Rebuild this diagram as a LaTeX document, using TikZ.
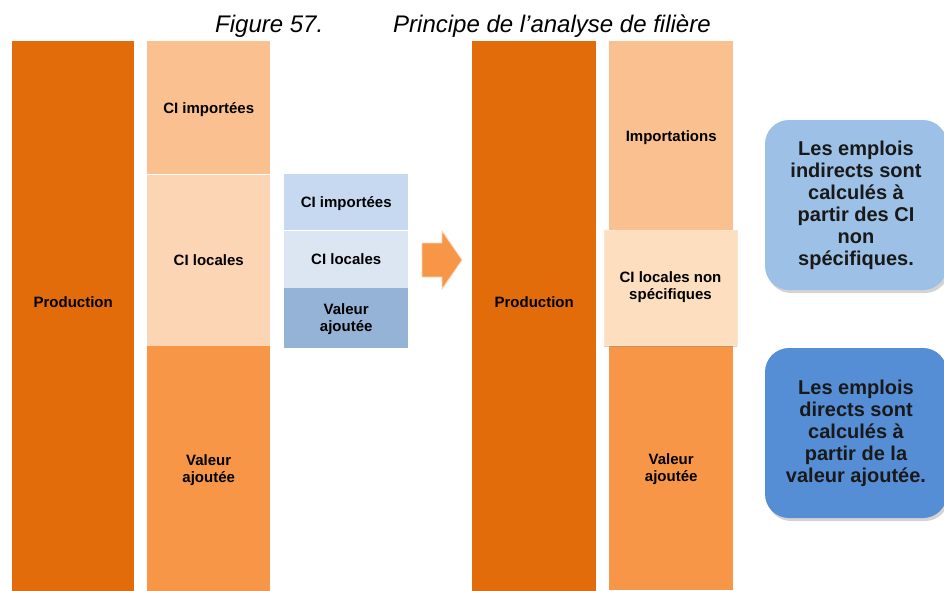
\documentclass[tikz,border=0pt]{standalone}
\usepackage{fontspec}
\setmainfont{Liberation Sans}
\usetikzlibrary{
	positioning,
	shadows
}
\definecolor{DeepOrange}{RGB}{227,108,10}
\definecolor{MidOrange}{RGB}{247,150,70}
\definecolor{PaleOrange}{RGB}{250,192,144}
\definecolor{LightOrange}{RGB}{252,213,181}
\definecolor{PeachBox}{RGB}{253,222,190}
\definecolor{PaleBlue}{RGB}{198,217,241}
\definecolor{IceBlue}{RGB}{220,230,242}
\definecolor{SteelBlue}{RGB}{149,179,215}
\definecolor{SkyBox}{RGB}{157,192,230}
\definecolor{RoyalBox}{RGB}{85,142,213}

\tikzset{
	seg/.style={
		rectangle,
		anchor=north west,
		minimum width=123pt,
		inner sep=0pt,
		text depth=0pt,
		align=center,
		font=\bfseries\fontsize{15}{17}\selectfont
	},
	txt/.style={
		align=center,
		inner sep=0pt,
		font=\bfseries\fontsize{15}{17}\selectfont
	},
	notebox/.style={
		rectangle,
		rounded corners=24pt,
		minimum width=182pt,
		minimum height=170pt,
		align=center,
		inner sep=0pt,
		text=black!90,
		font=\bfseries\fontsize{20}{22}\selectfont,
		drop shadow={shadow xshift=2pt,shadow yshift=-3pt,opacity=.35}
	}
}

\begin{document}
\begin{tikzpicture}[x=1pt,y=-1pt]
	
	\useasboundingbox (0,0) rectangle (944,590);
	
	% title
	\node[anchor=base west, inner sep=0pt, font=\itshape\fontsize{24}{26}\selectfont]
	(fig) at (215,32) {Figure 57.};
	\node[anchor=base west, inner sep=0pt, font=\itshape\fontsize{24}{26}\selectfont]
	(title) at (393,32) {Principe de l’analyse de filière};
	
	% left part
	\node[seg, fill=DeepOrange, minimum width=122pt, minimum height=560pt]
	(prodA) at (12,41) {};
	\node[txt] (prodAt) at (prodA.north |- 0,302) {Production};
	
	\node[seg, fill=PaleOrange, minimum height=133pt]
	(impA) at (147,41) {CI importées};
	\node[seg, fill=LightOrange, minimum height=171pt]
	(locA) at (impA.south west) {CI locales};
	\node[seg, fill=MidOrange, minimum height=245pt]
	(vaA) at (locA.south west) {Valeur\\ajoutée};
	
	% small blue column
	\node[seg, fill=PaleBlue, minimum width=124pt, minimum height=56pt]
	(impB) at (284,174) {CI importées};
	\node[seg, fill=IceBlue, minimum width=124pt, minimum height=57pt]
	(locB) at (impB.south west) {CI locales};
	\node[seg, fill=SteelBlue, minimum width=124pt, minimum height=60pt]
	(vaB) at (locB.south west) {Valeur\\ajoutée};
	
	% arrow
	\coordinate (arr) at (422,260);
	\draw[fill=MidOrange, draw=LightOrange, line width=0.8pt]
	(arr) ++(0,-17) -- ++(20,0) -- ++(0,-12) -- ++(20,29)
	-- ++(-20,29) -- ++(0,-12) -- ++(-20,0) -- cycle;
	
	% right part
	\node[seg, fill=DeepOrange, minimum width=124pt, minimum height=560pt]
	(prodC) at (472,41) {};
	\node[txt] (prodCt) at (prodC.north |- 0,302) {Production};
	
	\node[seg, fill=PaleOrange, minimum width=124pt, minimum height=189pt]
	(impD) at (609,41) {Importations};
	\node[seg, fill=MidOrange, minimum width=124pt, minimum height=245pt]
	(vaD) at (609,345) {Valeur\\ajoutée};
	\node[rectangle, fill=PeachBox, minimum width=133pt, minimum height=115pt,
	inner sep=0pt, align=center, font=\bfseries\fontsize{15}{17}\selectfont,
	draw=PeachBox!80!white,
	drop shadow={shadow xshift=0pt,shadow yshift=-2pt,opacity=.35}]
	(locD) at (670.5,287.5) {CI locales non\\spécifiques};
	
	% notes
	\node[notebox, fill=SkyBox] (noteI) at (856,205)
	{Les emplois\\indirects sont\\calculés à\\partir des CI\\non\\spécifiques.};
	\node[notebox, fill=RoyalBox] (noteD) at (856,433)
	{Les emplois\\directs sont\\calculés à\\partir de la\\valeur ajoutée.};
	
\end{tikzpicture}
\end{document}
